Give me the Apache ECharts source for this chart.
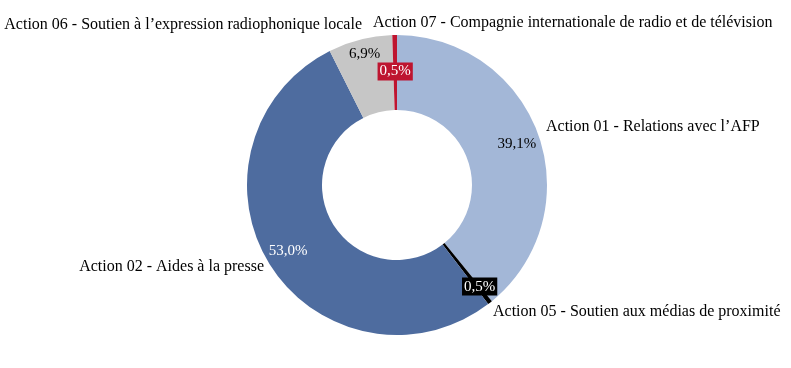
<!DOCTYPE html>
<html><head><meta charset="utf-8">
<script src="https://cdn.jsdelivr.net/npm/echarts@6/dist/echarts.min.js"></script>
<style>html,body{margin:0;padding:0;background:#fff}#c{width:791px;height:368px}</style>
</head><body><div id="c"></div>
<script>
const categories = [
  "Action 01 - Relations avec l\u2019AFP",
  "Action 05 - Soutien aux médias de proximité",
  "Action 02 - Aides à la presse",
  "Action 06 - Soutien à l\u2019expression radiophonique locale",
  "Action 07 - Compagnie internationale de radio et de télévision"
];
const values = [39.1, 0.5, 53.0, 6.9, 0.5];
const colors = ['#a3b7d7', '#000000', '#4e6c9f', '#c6c6c6', '#be1530'];
const pctTextColors = ['#000', '#fff', '#fff', '#000', '#fff'];
const pctBoxColors = [null, '#000000', null, null, '#be1530'];

const font = '"Liberation Serif", "DejaVu Serif", serif';
// label placement (text anchors only)
const innerShift = [[11, -2], [11, 11], [-11, 5], [-4, -19], [0, 2]];
const outerAnchor = [[546, 127, 'left'], [493, 312, 'left'], [264, 267, 'right'], [362, 25, 'right'], [373, 23, 'left']];

const chart = echarts.init(document.getElementById('c'), null, {renderer: 'canvas'});
const baseData = categories.map((c, i) => ({name: c, value: values[i], itemStyle: {color: colors[i]}}));

chart.setOption({
  animation: false,
  backgroundColor: '#fff',
  series: [
    {
      type: 'pie', center: [397, 185], radius: [75, 150], startAngle: 90, clockwise: true,
      avoidLabelOverlap: false, silent: true,
      itemStyle: {borderWidth: 0},
      label: {show: true, position: 'outside', formatter: '{b}', color: '#000', fontFamily: font, fontSize: 16},
      labelLine: {show: false, length: 6, length2: 0},
      labelLayout: function (p) {
        const a = outerAnchor[p.dataIndex];
        return {x: a[0], y: a[1], align: a[2], verticalAlign: 'middle', hideOverlap: false};
      },
      data: baseData
    },
    {
      type: 'pie', center: [397, 185], radius: [75, 150], startAngle: 90, clockwise: true,
      avoidLabelOverlap: false, silent: true,
      itemStyle: {color: 'transparent', borderWidth: 0},
      label: {show: true, position: 'inside', fontFamily: font, fontSize: 15},
      labelLayout: function (p) { const s = innerShift[p.dataIndex]; return {dx: s[0], dy: s[1]}; },
      data: values.map((v, i) => ({
        name: categories[i], value: v,
        itemStyle: {color: 'transparent'},
        label: {
          formatter: v.toFixed(1).replace('.', ',') + '%',
          color: pctTextColors[i],
          backgroundColor: pctBoxColors[i] || 'transparent',
          padding: pctBoxColors[i] ? [2, 2, 1, 2] : 0
        }
      }))
    }
  ]
});
</script></body></html>
